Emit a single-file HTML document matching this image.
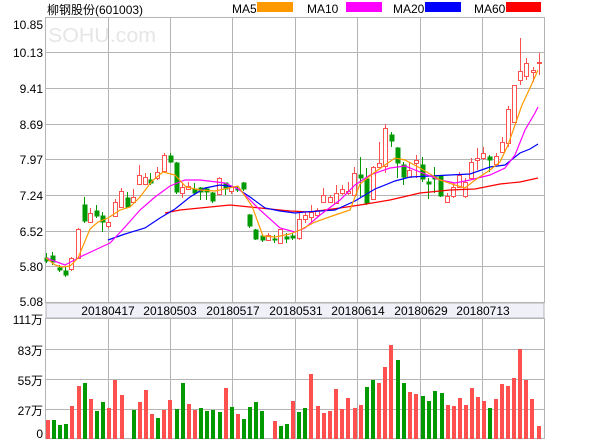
<!DOCTYPE html>
<html><head><meta charset="utf-8"><style>
html,body{margin:0;padding:0;background:#fff;width:600px;height:440px;overflow:hidden}
svg{display:block}
text{font-family:"Liberation Sans","Noto Sans CJK SC",sans-serif;font-size:12px;fill:#000}
</style></head><body>
<svg width="600" height="440" viewBox="0 0 600 440" xmlns="http://www.w3.org/2000/svg">
<text x="47" y="14">柳钢股份(601003)</text>
<text x="232" y="13">MA5</text><rect x="257" y="2" width="36" height="10" fill="#ff9900"/>
<text x="307" y="13">MA10</text><rect x="346" y="2" width="36" height="10" fill="#ff00ff"/>
<text x="393" y="13">MA20</text><rect x="425" y="2" width="36" height="10" fill="#0000ff"/>
<text x="474" y="13">MA60</text><rect x="506" y="2" width="35" height="10" fill="#ff0000"/>
<text x="48" y="42" textLength="108" lengthAdjust="spacingAndGlyphs" style="font-size:20px;fill:#e6e6e6">SOHU.com</text>
<g stroke="#b4b4b4" stroke-width="1" fill="none">
<rect x="45.5" y="17.5" width="499" height="285"/>
<line x1="45" y1="52.5" x2="545" y2="52.5"/><line x1="45" y1="88.5" x2="545" y2="88.5"/>
<line x1="45" y1="124.5" x2="545" y2="124.5"/><line x1="45" y1="159.5" x2="545" y2="159.5"/>
<line x1="45" y1="195.5" x2="545" y2="195.5"/><line x1="45" y1="231.5" x2="545" y2="231.5"/>
<line x1="45" y1="266.5" x2="545" y2="266.5"/>
<line x1="108.5" y1="17" x2="108.5" y2="302"/><line x1="170.5" y1="17" x2="170.5" y2="302"/>
<line x1="232.5" y1="17" x2="232.5" y2="302"/><line x1="295.5" y1="17" x2="295.5" y2="302"/>
<line x1="357.5" y1="17" x2="357.5" y2="302"/><line x1="420.5" y1="17" x2="420.5" y2="302"/>
<line x1="482.5" y1="17" x2="482.5" y2="302"/>
</g>
<rect x="46" y="303" width="498" height="15" fill="#f0f0f8" stroke="#b4b4b4"/>
<g text-anchor="middle"><text x="108" y="315">20180417</text><text x="170" y="315">20180503</text><text x="233" y="315">20180517</text><text x="296" y="315">20180531</text><text x="358" y="315">20180614</text><text x="421" y="315">20180629</text><text x="483" y="315">20180713</text></g>
<g stroke="#b4b4b4" fill="none">
<rect x="45.5" y="318.5" width="499" height="120"/>
<line x1="45" y1="349.5" x2="545" y2="349.5"/><line x1="45" y1="379.5" x2="545" y2="379.5"/><line x1="45" y1="409.5" x2="545" y2="409.5"/>
<line x1="108.5" y1="318" x2="108.5" y2="439"/><line x1="170.5" y1="318" x2="170.5" y2="439"/>
<line x1="232.5" y1="318" x2="232.5" y2="439"/><line x1="295.5" y1="318" x2="295.5" y2="439"/>
<line x1="357.5" y1="318" x2="357.5" y2="439"/><line x1="420.5" y1="318" x2="420.5" y2="439"/>
<line x1="482.5" y1="318" x2="482.5" y2="439"/>
</g>
<g text-anchor="end">
<text x="43" y="29">10.85</text><text x="43" y="57">10.13</text><text x="43" y="93">9.41</text><text x="43" y="129">8.69</text><text x="43" y="164">7.97</text><text x="43" y="200">7.24</text><text x="43" y="236">6.52</text><text x="43" y="271">5.80</text><text x="43" y="306">5.08</text>
<text x="43" y="324">111万</text><text x="43" y="355">83万</text><text x="43" y="385">55万</text><text x="43" y="415">27万</text><text x="43" y="438">0</text>
</g>
<g stroke-width="1">
<g stroke="#009900" fill="#009900">
<line x1="46.5" y1="253" x2="46.5" y2="263"/><rect x="45" y="258" width="3" height="3"/>
<line x1="52.5" y1="252" x2="52.5" y2="265"/><rect x="51" y="256" width="4" height="6"/>
<line x1="59.5" y1="265" x2="59.5" y2="272"/><rect x="58" y="268" width="4" height="2"/>
<line x1="65.5" y1="267" x2="65.5" y2="277"/><rect x="64" y="271" width="4" height="4"/>
<line x1="84.5" y1="197" x2="84.5" y2="223"/><rect x="83" y="205" width="4" height="16"/>
<line x1="96.5" y1="205" x2="96.5" y2="218"/><rect x="95" y="211" width="4" height="5"/>
<line x1="102.5" y1="212" x2="102.5" y2="232"/><rect x="101" y="216" width="4" height="6"/>
<line x1="127.5" y1="192" x2="127.5" y2="208"/><rect x="126" y="198" width="4" height="9"/>
<line x1="150.5" y1="173" x2="150.5" y2="185"/><rect x="149" y="180" width="4" height="3"/>
<line x1="170.5" y1="153" x2="170.5" y2="163"/><rect x="169" y="156" width="4" height="6"/>
<line x1="176.5" y1="162" x2="176.5" y2="194"/><rect x="175" y="163" width="4" height="29"/>
<line x1="194.5" y1="183" x2="194.5" y2="195"/><rect x="193" y="189" width="4" height="4"/>
<line x1="200.5" y1="187" x2="200.5" y2="200"/><rect x="199" y="188" width="4" height="4"/>
<line x1="206.5" y1="187" x2="206.5" y2="200"/><rect x="205" y="189" width="4" height="3"/>
<line x1="212.5" y1="192" x2="212.5" y2="203"/><rect x="211" y="193" width="4" height="8"/>
<line x1="225.5" y1="183" x2="225.5" y2="195"/><rect x="224" y="183" width="4" height="6"/>
<line x1="237.5" y1="186" x2="237.5" y2="192"/><rect x="236" y="189" width="4" height="1"/>
<line x1="243.5" y1="182" x2="243.5" y2="191"/><rect x="242" y="183" width="4" height="6"/>
<line x1="249.5" y1="214" x2="249.5" y2="228"/><rect x="248" y="215" width="4" height="11"/>
<line x1="255.5" y1="229" x2="255.5" y2="240"/><rect x="254" y="230" width="4" height="9"/>
<line x1="262.5" y1="234" x2="262.5" y2="242"/><rect x="261" y="236" width="4" height="4"/>
<line x1="274.5" y1="235" x2="274.5" y2="243"/><rect x="273" y="239" width="4" height="1"/>
<line x1="286.5" y1="233" x2="286.5" y2="243"/><rect x="285" y="237" width="4" height="2"/>
<line x1="292.5" y1="233" x2="292.5" y2="240"/><rect x="291" y="236" width="4" height="2"/>
<line x1="360.5" y1="157" x2="360.5" y2="197"/><rect x="359" y="175" width="4" height="3"/>
<line x1="366.5" y1="168" x2="366.5" y2="205"/><rect x="365" y="179" width="4" height="24"/>
<line x1="391.5" y1="132" x2="391.5" y2="147"/><rect x="390" y="135" width="4" height="6"/>
<line x1="397.5" y1="147" x2="397.5" y2="178"/><rect x="396" y="148" width="4" height="15"/>
<line x1="403.5" y1="162" x2="403.5" y2="185"/><rect x="402" y="165" width="4" height="12"/>
<line x1="422.5" y1="157" x2="422.5" y2="182"/><rect x="421" y="165" width="4" height="14"/>
<line x1="428.5" y1="178" x2="428.5" y2="199"/><rect x="427" y="182" width="4" height="2"/>
<line x1="434.5" y1="167" x2="434.5" y2="193"/><rect x="433" y="177" width="4" height="2"/>
<line x1="440.5" y1="175" x2="440.5" y2="197"/><rect x="439" y="176" width="4" height="20"/>
<line x1="489.5" y1="155" x2="489.5" y2="172"/><rect x="488" y="157" width="4" height="3"/>
</g>
<g stroke="#ff5050" fill="#fff">
<line x1="71.5" y1="257" x2="71.5" y2="271"/><rect x="69.5" y="258.5" width="4" height="11"/>
<line x1="78.5" y1="228" x2="78.5" y2="259"/><rect x="76.5" y="229.5" width="4" height="29"/>
<line x1="90.5" y1="208" x2="90.5" y2="223"/><rect x="88.5" y="213.5" width="4" height="9"/>
<line x1="108.5" y1="219" x2="108.5" y2="228"/><rect x="106.5" y="222.5" width="4" height="4"/>
<line x1="115.5" y1="199" x2="115.5" y2="217"/><rect x="113.5" y="202.5" width="4" height="14"/>
<line x1="121.5" y1="188" x2="121.5" y2="208"/><rect x="119.5" y="191.5" width="4" height="16"/>
<line x1="133.5" y1="189" x2="133.5" y2="203"/><rect x="131.5" y="197.5" width="4" height="5"/>
<line x1="139.5" y1="165" x2="139.5" y2="185"/><rect x="137.5" y="175.5" width="4" height="9"/>
<line x1="145.5" y1="173" x2="145.5" y2="185"/><rect x="143.5" y="177.5" width="4" height="7"/>
<line x1="157.5" y1="167" x2="157.5" y2="180"/><rect x="155.5" y="172.5" width="4" height="6"/>
<line x1="164.5" y1="153" x2="164.5" y2="172"/><rect x="162.5" y="155.5" width="4" height="16"/>
<line x1="182.5" y1="183" x2="182.5" y2="198"/><rect x="180.5" y="187.5" width="4" height="6"/>
<line x1="188.5" y1="182" x2="188.5" y2="190"/><rect x="186.5" y="186.5" width="4" height="3"/>
<line x1="219.5" y1="177" x2="219.5" y2="195"/><rect x="217.5" y="178.5" width="4" height="16"/>
<line x1="231.5" y1="186" x2="231.5" y2="194"/><rect x="229.5" y="187.5" width="4" height="4"/>
<line x1="268.5" y1="233" x2="268.5" y2="241"/><rect x="266.5" y="235.5" width="4" height="5"/>
<line x1="280.5" y1="229" x2="280.5" y2="244"/><rect x="278.5" y="229.5" width="4" height="14"/>
<line x1="299.5" y1="213" x2="299.5" y2="240"/><rect x="297.5" y="219.5" width="4" height="19"/>
<line x1="305.5" y1="212" x2="305.5" y2="223"/><rect x="303.5" y="215.5" width="4" height="4"/>
<line x1="311.5" y1="205" x2="311.5" y2="222"/><rect x="309.5" y="212.5" width="4" height="5"/>
<line x1="317.5" y1="208" x2="317.5" y2="217"/><rect x="315.5" y="210.5" width="4" height="5"/>
<line x1="323.5" y1="188" x2="323.5" y2="203"/><rect x="321.5" y="195.5" width="4" height="7"/>
<line x1="330.5" y1="195" x2="330.5" y2="203"/><rect x="328.5" y="197.5" width="4" height="5"/>
<line x1="336.5" y1="185" x2="336.5" y2="203"/><rect x="334.5" y="193.5" width="4" height="10"/>
<line x1="342.5" y1="185" x2="342.5" y2="195"/><rect x="340.5" y="189.5" width="4" height="4"/>
<line x1="348.5" y1="182" x2="348.5" y2="195"/><rect x="346.5" y="191.5" width="4" height="2"/>
<line x1="354.5" y1="167" x2="354.5" y2="196"/><rect x="352.5" y="173.5" width="4" height="22"/>
<line x1="373.5" y1="166" x2="373.5" y2="200"/><rect x="371.5" y="167.5" width="4" height="32"/>
<line x1="379.5" y1="142" x2="379.5" y2="168"/><rect x="377.5" y="163.5" width="4" height="4"/>
<line x1="385.5" y1="124" x2="385.5" y2="173"/><rect x="383.5" y="128.5" width="4" height="38"/>
<line x1="409.5" y1="162" x2="409.5" y2="178"/><rect x="407.5" y="170.5" width="4" height="7"/>
<line x1="416.5" y1="155" x2="416.5" y2="178"/><rect x="414.5" y="160.5" width="4" height="3"/>
<line x1="447.5" y1="193" x2="447.5" y2="203"/><rect x="445.5" y="196.5" width="4" height="6"/>
<line x1="453.5" y1="183" x2="453.5" y2="198"/><rect x="451.5" y="187.5" width="4" height="9"/>
<line x1="459.5" y1="172" x2="459.5" y2="188"/><rect x="457.5" y="175.5" width="4" height="12"/>
<line x1="465.5" y1="178" x2="465.5" y2="198"/><rect x="463.5" y="182.5" width="4" height="14"/>
<line x1="471.5" y1="158" x2="471.5" y2="179"/><rect x="469.5" y="162.5" width="4" height="16"/>
<line x1="477.5" y1="148" x2="477.5" y2="170"/><rect x="475.5" y="158.5" width="4" height="2"/>
<line x1="483.5" y1="147" x2="483.5" y2="160"/><rect x="481.5" y="153.5" width="4" height="5"/>
<line x1="496.5" y1="153" x2="496.5" y2="165"/><rect x="494.5" y="156.5" width="4" height="8"/>
<line x1="502.5" y1="137" x2="502.5" y2="153"/><rect x="500.5" y="142.5" width="4" height="10"/>
<line x1="508.5" y1="106" x2="508.5" y2="147"/><rect x="506.5" y="109.5" width="4" height="34"/>
<line x1="514.5" y1="85" x2="514.5" y2="122"/><rect x="512.5" y="85.5" width="4" height="37"/>
<line x1="520.5" y1="38" x2="520.5" y2="85"/><rect x="518.5" y="71.5" width="4" height="9"/>
<line x1="526.5" y1="58" x2="526.5" y2="80"/><rect x="524.5" y="63.5" width="4" height="13"/>
<line x1="533.5" y1="67" x2="533.5" y2="82"/><rect x="531.5" y="70.5" width="4" height="2"/>
<line x1="539.5" y1="53" x2="539.5" y2="75"/><rect x="537.5" y="62.5" width="4" height="1"/>
</g>
</g>
<g fill="none" stroke-width="1.2">
<polyline stroke="#ff0000" points="165,213 180,210 200,208 230,205 260,208 290,211 310,212 340,208 360,205 390,200 420,193 450,190 475,189 500,184 520,182 538,178"/>
<polyline stroke="#0000ff" points="108,240 125,234 145,228 160,218 175,209 190,197 205,188 220,185 235,187 250,197 265,208 280,211 295,213 305,212 320,211 335,210 355,201 375,189 395,181 410,177 430,176 450,175 470,174 490,167 505,165 520,153 530,149 538,144"/>
<polyline stroke="#ff00ff" points="46,258 65,265 80,257 95,250 110,243 125,227 140,210 155,197 170,186 185,180 200,180 225,183 240,190 260,210 280,228 295,232 305,228 320,215 340,200 355,185 370,175 390,168 405,166 420,172 440,180 455,183 470,180 490,175 505,168 515,155 525,130 535,113 538,107"/>
<polyline stroke="#ff9900" points="46,258 55,265 62,267 70,266 78,258 90,229 98,222 108,218 120,210 130,207 140,197 152,181 163,172 175,175 186,187 200,190 215,191 238,186 252,206 263,236 275,237 290,234 300,230 315,222 335,215 350,210 360,184 375,172 385,165 395,158 405,160 420,168 440,180 455,185 465,188 475,180 490,170 500,162 508,145 515,125 522,105 530,88 538,70"/>
</g>
<g fill="#009900">
<rect x="52" y="420" width="4" height="19"/><rect x="58" y="425" width="4" height="14"/><rect x="64" y="424" width="4" height="15"/>
<rect x="83" y="383" width="4" height="56"/><rect x="95" y="411" width="4" height="28"/><rect x="101" y="402" width="4" height="37"/>
<rect x="132" y="410" width="4" height="29"/><rect x="156" y="418" width="4" height="21"/><rect x="175" y="409" width="4" height="30"/>
<rect x="181" y="383" width="4" height="56"/><rect x="199" y="408" width="4" height="31"/><rect x="205" y="411" width="4" height="28"/>
<rect x="211" y="410" width="4" height="29"/><rect x="218" y="412" width="4" height="27"/><rect x="230" y="407" width="4" height="32"/>
<rect x="242" y="419" width="4" height="20"/><rect x="248" y="407" width="4" height="32"/><rect x="254" y="402" width="4" height="37"/>
<rect x="260" y="411" width="4" height="28"/><rect x="279" y="426" width="4" height="13"/><rect x="285" y="424" width="4" height="15"/>
<rect x="297" y="412" width="4" height="27"/><rect x="303" y="408" width="4" height="31"/>
<rect x="365" y="387" width="4" height="52"/><rect x="371" y="380" width="4" height="59"/>
<rect x="396" y="360" width="4" height="79"/><rect x="402" y="383" width="4" height="56"/>
<rect x="421" y="396" width="4" height="43"/><rect x="427" y="401" width="4" height="38"/><rect x="433" y="391" width="4" height="48"/><rect x="440" y="393" width="4" height="46"/>
<rect x="488" y="408" width="4" height="31"/>
</g>
<g fill="#ff5050">
<rect x="46" y="420" width="4" height="19"/><rect x="70" y="406" width="4" height="33"/><rect x="77" y="386" width="4" height="53"/>
<rect x="89" y="399" width="4" height="40"/><rect x="107" y="408" width="4" height="31"/><rect x="113" y="380" width="4" height="59"/>
<rect x="120" y="395" width="4" height="44"/><rect x="138" y="402" width="4" height="37"/><rect x="144" y="390" width="4" height="49"/>
<rect x="150" y="414" width="4" height="25"/><rect x="162" y="410" width="4" height="29"/><rect x="168" y="400" width="4" height="39"/>
<rect x="187" y="404" width="4" height="35"/><rect x="193" y="410" width="4" height="29"/><rect x="224" y="388" width="4" height="51"/>
<rect x="236" y="414" width="4" height="25"/><rect x="273" y="421" width="4" height="18"/><rect x="291" y="401" width="4" height="38"/>
<rect x="309" y="374" width="4" height="65"/><rect x="316" y="406" width="4" height="33"/><rect x="322" y="413" width="4" height="26"/>
<rect x="328" y="411" width="4" height="28"/><rect x="334" y="389" width="4" height="50"/><rect x="340" y="409" width="4" height="30"/>
<rect x="346" y="398" width="4" height="41"/><rect x="353" y="408" width="4" height="31"/><rect x="359" y="405" width="4" height="34"/>
<rect x="377" y="383" width="4" height="56"/><rect x="383" y="367" width="4" height="72"/><rect x="389" y="345" width="4" height="94"/>
<rect x="408" y="392" width="4" height="47"/><rect x="414" y="394" width="4" height="45"/>
<rect x="446" y="405" width="4" height="34"/><rect x="452" y="406" width="4" height="33"/><rect x="458" y="398" width="4" height="41"/>
<rect x="464" y="405" width="4" height="34"/><rect x="470" y="388" width="4" height="51"/><rect x="476" y="397" width="4" height="42"/>
<rect x="482" y="401" width="4" height="38"/><rect x="494" y="399" width="4" height="40"/><rect x="500" y="384" width="4" height="55"/>
<rect x="506" y="386" width="4" height="53"/><rect x="512" y="378" width="4" height="61"/><rect x="518" y="349" width="4" height="90"/>
<rect x="524" y="380" width="4" height="59"/><rect x="530" y="399" width="4" height="40"/><rect x="537" y="426" width="4" height="13"/>
</g>
</svg>
</body></html>
